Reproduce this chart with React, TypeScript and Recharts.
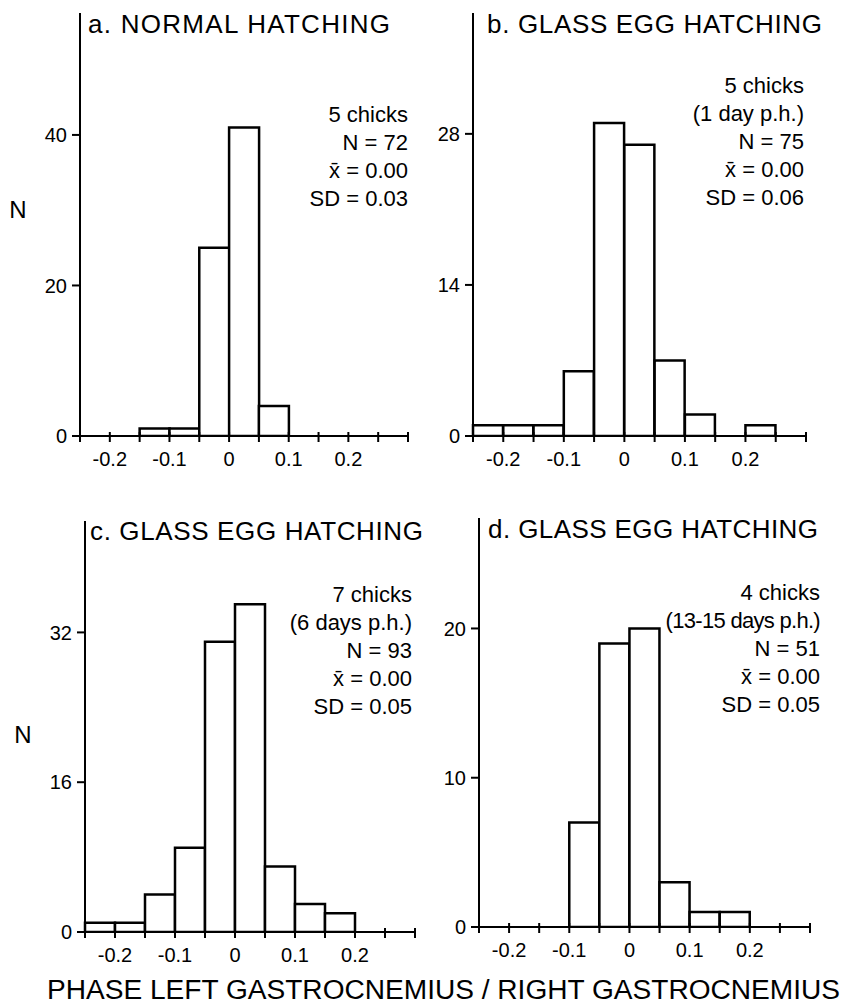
import { BarChart, Bar, XAxis, YAxis } from "recharts";

// bins of 0.05, from -0.25 to 0.30
const bins = [0, 1, 2, 3, 4, 5, 6, 7, 8, 9, 10];
// label drawn at the left edge of each bin
const edgeLabels = ["", "-0.2", "", "-0.1", "", "0", "", "0.1", "", "0.2", ""];

const countsA = [0, 0, 1, 1, 25, 41, 4, 0, 0, 0, 0];
const countsB = [1, 1, 1, 6, 29, 27, 7, 2, 0, 1, 0];
const countsC = [1, 1, 4, 9, 31, 35, 7, 3, 2, 0, 0];
const countsD = [0, 0, 0, 7, 19, 20, 3, 1, 1, 0, 0];

const yTicksA = [0, 20, 40];
const yTicksB = [0, 14, 28];
const yTicksC = [0, 16, 32];
const yTicksD = [0, 10, 20];

const titleA = "a. NORMAL HATCHING";
const titleB = "b. GLASS EGG HATCHING";
const titleC = "c. GLASS EGG HATCHING";
const titleD = "d. GLASS EGG HATCHING";

const statsA = ["5 chicks", "N = 72", "x\u0304 = 0.00", "SD = 0.03"];
const statsB = ["5 chicks", "(1 day p.h.)", "N = 75", "x\u0304 = 0.00", "SD = 0.06"];
const statsC = ["7 chicks", "(6 days p.h.)", "N = 93", "x\u0304 = 0.00", "SD = 0.05"];
const statsD = ["4 chicks", "(13-15 days p.h.)", "N = 51", "x\u0304 = 0.00", "SD = 0.05"];

const xTitle = "PHASE LEFT GASTROCNEMIUS / RIGHT GASTROCNEMIUS";

const font = "'Liberation Sans', Arial, sans-serif";

// ticks sit on the bin edges, not the bin centres
const EdgeTick = (props: any) => {
  const { x, y, payload, width } = props;
  const half = payload.offset ?? width / bins.length / 2;
  const left = x - half;
  const label = edgeLabels[payload.index] ?? "";
  const last = payload.index === bins.length - 1;
  return (
    <g>
      <line x1={left} x2={left} y1={y - 4} y2={y + 6} stroke="#000" strokeWidth={2} />
      {last && <line x1={x + half} x2={x + half} y1={y - 4} y2={y + 6} stroke="#000" strokeWidth={2} />}
      {label && (
        <text x={left} y={y + 30} textAnchor="middle" fontSize={20} fill="#000" fontFamily={font}>
          {label}
        </text>
      )}
    </g>
  );
};

interface PanelProps {
  counts: number[];
  yTicks: number[];
  yMax: number;
  box: { left: number; top: number; width: number; height: number };
  margin: { top: number; right: number; bottom: number; left: number };
}

const Panel = ({ counts, yTicks, yMax, box, margin }: PanelProps) => {
  const data = bins.map((b, i) => ({ bin: b, n: counts[i] }));
  return (
    <div style={{ position: "absolute", left: box.left, top: box.top }}>
      <BarChart width={box.width} height={box.height} data={data} margin={margin} barCategoryGap={0}>
        <XAxis
          dataKey="bin"
          type="category"
          interval={0}
          tick={EdgeTick}
          tickSize={0}
          tickMargin={0}
          height={30}
          axisLine={{ stroke: "#000", strokeWidth: 2 }}
          tickLine={false}
        />
        <YAxis
          domain={[0, yMax]}
          allowDataOverflow
          ticks={yTicks}
          interval={0}
          width={40}
          tickSize={8}
          tickMargin={5}
          tick={{ fill: "#000", fontSize: 20, fontFamily: font }}
          axisLine={{ stroke: "#000", strokeWidth: 2 }}
          tickLine={{ stroke: "#000", strokeWidth: 2 }}
        />
        <Bar dataKey="n" fill="#fff" stroke="#000" strokeWidth={2.5} isAnimationActive={false} />
      </BarChart>
    </div>
  );
};

const Stats = ({ lines, x, y }: { lines: string[]; x: number; y: number }) => (
  <>
    {lines.map((l, i) => (
      <text
        key={i}
        x={x}
        y={y + i * 28}
        textAnchor="end"
        fontSize={22}
        letterSpacing={l.length > 14 ? -0.7 : 0}
        fill="#000"
        fontFamily={font}
      >
        {l}
      </text>
    ))}
  </>
);

export default function App() {
  return (
    <div style={{ position: "absolute", left: 0, top: 0, width: 851, height: 1006, background: "#fff" }}>
      <Panel
        counts={countsA}
        yTicks={yTicksA}
        yMax={56.2}
        box={{ left: 0, top: 0, width: 430, height: 480 }}
        margin={{ top: 13, right: 22, bottom: 14, left: 40 }}
      />
      <Panel
        counts={countsB}
        yTicks={yTicksB}
        yMax={39.2}
        box={{ left: 430, top: 0, width: 421, height: 480 }}
        margin={{ top: 13, right: 45, bottom: 14, left: 3 }}
      />
      <Panel
        counts={countsC}
        yTicks={yTicksC}
        yMax={43.9}
        box={{ left: 0, top: 480, width: 430, height: 526 }}
        margin={{ top: 41, right: 15, bottom: 44, left: 45 }}
      />
      <Panel
        counts={countsD}
        yTicks={yTicksD}
        yMax={27.4}
        box={{ left: 430, top: 480, width: 421, height: 526 }}
        margin={{ top: 38, right: 41, bottom: 49, left: 9 }}
      />
      <svg
        width={851}
        height={1006}
        style={{ position: "absolute", left: 0, top: 0, pointerEvents: "none" }}
      >
        <g fontFamily={font} fill="#000">
          <text x={88} y={33} fontSize={26} textLength={302} lengthAdjust="spacing">{titleA}</text>
          <text x={487} y={33} fontSize={26} textLength={335} lengthAdjust="spacing">{titleB}</text>
          <text x={90} y={540} fontSize={26} textLength={333} lengthAdjust="spacing">{titleC}</text>
          <text x={488} y={538} fontSize={26} textLength={330} lengthAdjust="spacing">{titleD}</text>

          <Stats lines={statsA} x={408} y={122} />
          <Stats lines={statsB} x={804} y={93} />
          <Stats lines={statsC} x={412} y={602} />
          <Stats lines={statsD} x={820} y={600} />

          <text x={18} y={218} fontSize={24} textAnchor="middle">N</text>
          <text x={23} y={743} fontSize={24} textAnchor="middle">N</text>

          <text x={47} y={999} fontSize={27} textLength={793} lengthAdjust="spacingAndGlyphs">{xTitle}</text>
        </g>
      </svg>
    </div>
  );
}
